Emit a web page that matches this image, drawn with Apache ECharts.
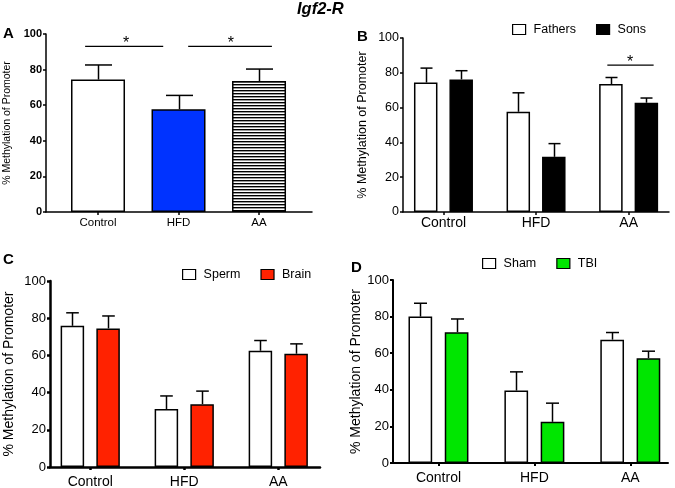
<!DOCTYPE html>
<html><head><meta charset="utf-8">
<script src="https://cdn.jsdelivr.net/npm/echarts@6/dist/echarts.min.js"></script>
<style>html,body{margin:0;padding:0;background:#fff}#c{width:675px;height:488px}</style>
</head><body><div id="c"></div>
<script>
const categories = ['Control', 'HFD', 'AA'];
const yTicks = [0, 20, 40, 60, 80, 100];
// Panel A
const aMeans = [74.4, 57.7, 73.6];
const aErrTop = [82.6, 65.5, 80.3];
const aSig = [[-0.16, 0.81, 93, 0.35], [1.12, 2.16, 93, 1.65]];
// Panel B
const bFathers = [74.4, 57.6, 73.5];
const bFathersErrTop = [82.7, 68.5, 77.3];
const bSons = [76.2, 31.7, 62.8];
const bSonsErrTop = [81.2, 39.3, 65.5];
const bSig = [[1.77, 2.27, 84.4, 2.015]];
// Panel C
const cSperm = [75.9, 31.2, 62.5];
const cSpermErrTop = [82.9, 38.2, 68.0];
const cBrain = [74.5, 33.8, 60.9];
const cBrainErrTop = [81.2, 40.8, 66.2];
// Panel D
const dSham = [80.0, 39.6, 67.4];
const dShamErrTop = [87.3, 49.8, 71.3];
const dTBI = [71.5, 22.5, 57.3];
const dTBIErrTop = [78.7, 32.7, 61.1];

const FONT = 'Liberation Sans, Arial, sans-serif';

// stripe pattern for AA bar
const pc = document.createElement('canvas');
pc.width = 4; pc.height = 3;
const pctx = pc.getContext('2d');
pctx.fillStyle = '#ffffff'; pctx.fillRect(0, 0, 4, 3);
pctx.fillStyle = '#000000'; pctx.fillRect(0, 0, 4, 1);
pctx.fillStyle = '#9a9a9a'; pctx.fillRect(0, 1, 4, 1);
const stripe = { image: pc, repeat: 'repeat' };

const panels = [
  { grid: { left: 46, top: 34, width: 266, height: 178 }, xr: [-0.646, 2.658], axW: 1.5,
    tickFont: { fontSize: 11, fontWeight: 'bold' }, catFont: 11.5, catMargin: 5,
    nameFont: 10.5, nameGap: 33 },
  { grid: { left: 403, top: 38, width: 266, height: 174 }, xr: [-0.437, 2.436], axW: 1.5,
    tickFont: { fontSize: 12.5, fontWeight: 'normal' }, catFont: 14, catMargin: 4,
    nameFont: 12.5, nameGap: 34 },
  { grid: { left: 50, top: 281, width: 270, height: 186 }, xr: [-0.428, 2.444], axW: 2.5,
    tickFont: { fontSize: 13, fontWeight: 'normal' }, catFont: 14, catMargin: 8,
    nameFont: 14, nameGap: 34 },
  { grid: { left: 393, top: 280, width: 275, height: 183 }, xr: [-0.474, 2.393], axW: 2,
    tickFont: { fontSize: 13, fontWeight: 'normal' }, catFont: 14, catMargin: 8,
    nameFont: 14, nameGap: 30 }
];

const grids = [], xAxes = [], yAxes = [];
panels.forEach((p, i) => {
  grids.push(Object.assign({ outerBoundsMode: 'none', containLabel: false }, p.grid));
  xAxes.push({
    type: 'value', gridIndex: i, min: p.xr[0], max: p.xr[1],
    axisLine: { show: true, onZero: false, lineStyle: { color: '#000', width: p.axW } },
    axisTick: { show: true, customValues: [0, 1, 2], length: 3, lineStyle: { color: '#000', width: p.axW } },
    axisLabel: { show: true, customValues: [0, 1, 2], formatter: v => categories[Math.round(v)],
      color: '#000', fontFamily: FONT, fontSize: p.catFont, margin: p.catMargin },
    splitLine: { show: false }
  });
  yAxes.push({
    type: 'value', gridIndex: i, min: 0, max: 100, interval: 20,
    name: '% Methylation of Promoter', nameLocation: 'middle', nameGap: p.nameGap,
    nameTextStyle: { color: '#000', fontFamily: FONT, fontSize: p.nameFont },
    axisLine: { show: true, onZero: false, lineStyle: { color: '#000', width: p.axW } },
    axisTick: { show: true, length: 3, lineStyle: { color: '#000', width: p.axW } },
    axisLabel: { color: '#000', fontFamily: FONT, fontSize: p.tickFont.fontSize,
      fontWeight: p.tickFont.fontWeight, margin: 4 },
    splitLine: { show: false }
  });
});

function barSeries(name, gi, vals, color, width, gap) {
  return {
    type: 'bar', name: name, xAxisIndex: gi, yAxisIndex: gi, barWidth: width, barGap: gap,
    data: vals.map((v, i) => [i, v]), z: 2,
    itemStyle: { color: color, borderColor: '#000', borderWidth: 1.5 }
  };
}
function errSeries(gi, means, tops, offset, capHalf, lw) {
  return {
    type: 'custom', xAxisIndex: gi, yAxisIndex: gi, silent: true, z: 3,
    encode: { x: 0, y: [1, 2] },
    data: means.map((m, i) => [i, m, tops[i]]),
    renderItem: function (params, api) {
      const p = api.coord([api.value(0), api.value(1)]);
      const q = api.coord([api.value(0), api.value(2)]);
      const cx = Math.round(p[0] + offset) + 0.5;
      return { type: 'group', children: [
        { type: 'line', shape: { x1: cx, y1: p[1], x2: cx, y2: q[1] }, style: { stroke: '#000', lineWidth: lw } },
        { type: 'line', shape: { x1: cx - capHalf, y1: q[1], x2: cx + capHalf, y2: q[1] }, style: { stroke: '#000', lineWidth: lw } }
      ] };
    }
  };
}
function sigSeries(gi, sig, fs) {
  return {
    type: 'custom', xAxisIndex: gi, yAxisIndex: gi, silent: true, z: 3,
    encode: { x: [0, 1], y: 2 }, data: sig,
    renderItem: function (params, api) {
      const a = api.coord([api.value(0), api.value(2)]);
      const b = api.coord([api.value(1), api.value(2)]);
      const s = api.coord([api.value(3), api.value(2)]);
      return { type: 'group', children: [
        { type: 'line', shape: { x1: a[0], y1: a[1], x2: b[0], y2: b[1] }, style: { stroke: '#000', lineWidth: 1.2 } },
        { type: 'text', x: s[0], y: a[1] + 5, style: { text: '*', fontSize: fs, fontFamily: FONT,
          fill: '#000', align: 'center', verticalAlign: 'bottom' } }
      ] };
    }
  };
}

const series = [
  {
    type: 'bar', name: 'A', xAxisIndex: 0, yAxisIndex: 0, barWidth: 54, z: 2,
    data: aMeans.map((v, i) => ({ value: [i, v], itemStyle: { color: [ '#ffffff', '#0033ff', stripe ][i] } })),
    itemStyle: { borderColor: '#000', borderWidth: 1.5 }
  },
  errSeries(0, aMeans, aErrTop, 0, 13.5, 1.5),
  sigSeries(0, aSig, 16),
  barSeries('Fathers', 1, bFathers, '#ffffff', 23.5, '51%'),
  barSeries('Sons', 1, bSons, '#000000', 23.5, '51%'),
  errSeries(1, bFathers, bFathersErrTop, -17.75, 6, 1.5),
  errSeries(1, bSons, bSonsErrTop, 17.75, 6, 1.5),
  sigSeries(1, bSig, 16),
  barSeries('Sperm', 2, cSperm, '#ffffff', 23.5, '52%'),
  barSeries('Brain', 2, cBrain, '#ff2200', 23.5, '52%'),
  errSeries(2, cSperm, cSpermErrTop, -17.9, 6.3, 1.5),
  errSeries(2, cBrain, cBrainErrTop, 17.9, 6.3, 1.5),
  barSeries('Sham', 3, dSham, '#ffffff', 23.7, '53%'),
  barSeries('TBI', 3, dTBI, '#00e600', 23.7, '53%'),
  errSeries(3, dSham, dShamErrTop, -18.1, 6.5, 1.5),
  errSeries(3, dTBI, dTBIErrTop, 18.1, 6.5, 1.5)
];

function legend(names, left, top) {
  return {
    data: names, left: left, top: top, orient: 'horizontal', itemGap: 20,
    itemWidth: 13, itemHeight: 10, icon: 'rect', selectedMode: false, padding: 0,
    itemStyle: { borderColor: '#000', borderWidth: 1.2 },
    textStyle: { color: '#000', fontFamily: FONT, fontSize: 12.5, padding: [0, 0, 0, 3] }
  };
}

const chart = echarts.init(document.getElementById('c'), null, { renderer: 'canvas' });
chart.setOption({
  animation: false,
  backgroundColor: '#fff',
  title: [
    { text: 'Igf2-R', left: 297, top: 1, padding: 0,
      textStyle: { fontFamily: FONT, fontSize: 16.5, fontWeight: 'bold', fontStyle: 'italic', color: '#000' } },
    { text: 'A', left: 3, top: 26, padding: 0, textStyle: { fontFamily: FONT, fontSize: 15, fontWeight: 'bold', color: '#000' } },
    { text: 'B', left: 357, top: 29, padding: 0, textStyle: { fontFamily: FONT, fontSize: 15, fontWeight: 'bold', color: '#000' } },
    { text: 'C', left: 3, top: 252, padding: 0, textStyle: { fontFamily: FONT, fontSize: 15, fontWeight: 'bold', color: '#000' } },
    { text: 'D', left: 351, top: 260, padding: 0, textStyle: { fontFamily: FONT, fontSize: 15, fontWeight: 'bold', color: '#000' } }
  ],
  legend: [
    legend(['Fathers', 'Sons'], 512, 23),
    legend(['Sperm', 'Brain'], 182, 268),
    legend(['Sham', 'TBI'], 482, 257)
  ],
  grid: grids, xAxis: xAxes, yAxis: yAxes, series: series
});
</script></body></html>
